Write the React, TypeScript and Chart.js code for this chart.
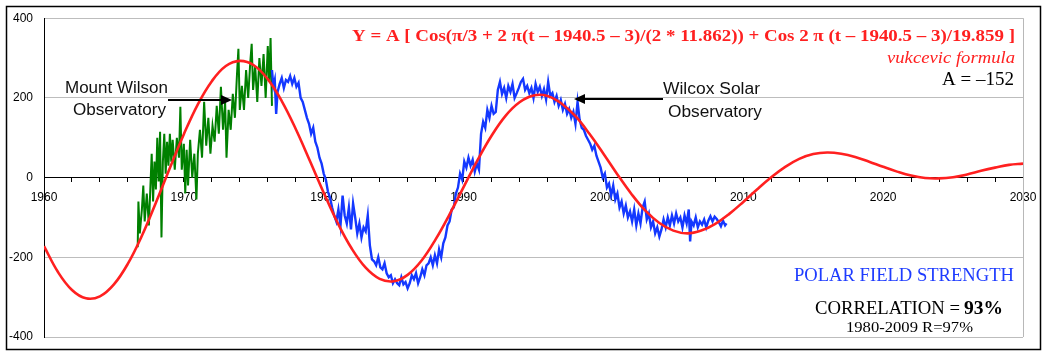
import React, { useEffect, useRef } from "react";
import { Chart, registerables } from "chart.js";

Chart.register(...registerables);

// Vukcevic formula curve
const formulaYears = [
  1960, 1961, 1962, 1963, 1964, 1965, 1966, 1967, 1968, 1969,
  1970, 1971, 1972, 1973, 1974, 1975, 1976, 1977, 1978, 1979,
  1980, 1981, 1982, 1983, 1984, 1985, 1986, 1987, 1988, 1989,
  1990, 1991, 1992, 1993, 1994, 1995, 1996, 1997, 1998, 1999,
  2000, 2001, 2002, 2003, 2004, 2005, 2006, 2007, 2008, 2009,
  2010, 2011, 2012, 2013, 2014, 2015, 2016, 2017, 2018, 2019,
  2020, 2021, 2022, 2023, 2024, 2025, 2026, 2027, 2028, 2029, 2030,
];
const formulaValues = [
  -172, -237, -282, -303, -298, -268, -216, -146, -63, 24,
  109, 184, 242, 280, 293, 282, 247, 192, 122, 43,
  -38, -114, -178, -226, -254, -260, -244, -208, -155, -92,
  -24, 44, 105, 155, 189, 206, 205, 186, 154, 110,
  60, 8, -41, -83, -114, -133, -140, -133, -116, -91,
  -61, -29, 1, 27, 47, 59, 63, 60, 52, 40,
  27, 15, 5, -1, -2, 1, 8, 17, 25, 32, 35,
];

// Mount Wilson Observatory (green)
const wilsonYears = [
  1966.7, 1966.75, 1966.85, 1967.0, 1967.1, 1967.2, 1967.35, 1967.5, 1967.6, 1967.7,
  1967.8, 1967.9, 1968.0, 1968.1, 1968.2, 1968.3, 1968.4, 1968.5, 1968.6, 1968.7,
  1968.8, 1968.9, 1969.0, 1969.1, 1969.2, 1969.35, 1969.5, 1969.65, 1969.75, 1969.85,
  1970.0, 1970.1, 1970.2, 1970.3, 1970.45, 1970.6, 1970.75, 1970.9, 1971.0, 1971.15,
  1971.3, 1971.45, 1971.6, 1971.75, 1971.9, 1972.05, 1972.2, 1972.35, 1972.5, 1972.65,
  1972.8, 1972.95, 1973.05, 1973.2, 1973.35, 1973.5, 1973.65, 1973.8, 1973.9, 1974.0,
  1974.15, 1974.3, 1974.45, 1974.6, 1974.75, 1974.85, 1974.95, 1975.1, 1975.25, 1975.4,
  1975.55, 1975.7, 1975.85, 1976.0, 1976.1, 1976.2, 1976.3,
];
const wilsonValues = [
  -175, -60, -140, -80, -20, -110, -40, -120, -30, 60,
  -60, 40, -30, 100, -10, 115, -150, 40, 110, 10,
  90, 30, 110, 40, 95, 20, 100, 50, 178, 20,
  85, -40, 70, -20, 95, 0, 60, -55, 60, 120,
  50, 190, 80, 150, 60, 130, 90, 180, 110, 228,
  120, 190, 50, 170, 120, 210, 150, 260, 323, 170,
  230, 170, 270, 200, 290, 336, 220, 280, 190, 300,
  230, 310, 200, 330, 240, 350, 180,
];

// Wilcox Solar Observatory (blue)
const wilcoxYears = [
  1976.3, 1976.4, 1976.5, 1976.6, 1976.7, 1976.85, 1977.0, 1977.15, 1977.3, 1977.45,
  1977.6, 1977.75, 1977.9, 1978.05, 1978.2, 1978.35, 1978.5, 1978.65, 1978.8, 1978.95,
  1979.1, 1979.25, 1979.4, 1979.55, 1979.7, 1979.85, 1980.0, 1980.15, 1980.3, 1980.45,
  1980.6, 1980.75, 1980.9, 1981.05, 1981.2, 1981.35, 1981.5, 1981.65, 1981.8, 1981.95,
  1982.1, 1982.25, 1982.4, 1982.55, 1982.7, 1982.85, 1983.0, 1983.15, 1983.3, 1983.45,
  1983.6, 1983.75, 1983.9, 1984.05, 1984.2, 1984.35, 1984.5, 1984.65, 1984.8, 1984.95,
  1985.1, 1985.25, 1985.4, 1985.55, 1985.7, 1985.85, 1986.0, 1986.15, 1986.3, 1986.45,
  1986.6, 1986.75, 1986.9, 1987.05, 1987.2, 1987.35, 1987.5, 1987.65, 1987.8, 1987.95,
  1988.1, 1988.25, 1988.4, 1988.55, 1988.7, 1988.85, 1989.0, 1989.15, 1989.3, 1989.45,
  1989.6, 1989.75, 1989.9, 1990.05, 1990.2, 1990.35, 1990.5, 1990.65, 1990.8, 1990.95,
  1991.1, 1991.25, 1991.4, 1991.55, 1991.7, 1991.85, 1992.0, 1992.15, 1992.3, 1992.45,
  1992.6, 1992.75, 1992.9, 1993.05, 1993.2, 1993.35, 1993.5, 1993.65, 1993.8, 1993.95,
  1994.1, 1994.25, 1994.4, 1994.55, 1994.7, 1994.85, 1995.0, 1995.15, 1995.3, 1995.45,
  1995.6, 1995.75, 1995.9, 1996.05, 1996.2, 1996.35, 1996.5, 1996.65, 1996.8, 1996.95,
  1997.1, 1997.25, 1997.4, 1997.55, 1997.7, 1997.85, 1998.0, 1998.15, 1998.3, 1998.45,
  1998.6, 1998.75, 1998.9, 1999.05, 1999.2, 1999.35, 1999.5, 1999.65, 1999.8, 1999.95,
  2000.1, 2000.25, 2000.4, 2000.55, 2000.7, 2000.85, 2001.0, 2001.15, 2001.3, 2001.45,
  2001.6, 2001.75, 2001.9, 2002.05, 2002.2, 2002.35, 2002.5, 2002.65, 2002.8, 2002.95,
  2003.1, 2003.25, 2003.4, 2003.55, 2003.7, 2003.85, 2004.0, 2004.15, 2004.3, 2004.45,
  2004.6, 2004.75, 2004.9, 2005.05, 2005.2, 2005.35, 2005.5, 2005.65, 2005.8, 2005.95,
  2006.1, 2006.2, 2006.3, 2006.45, 2006.6, 2006.75, 2006.9, 2007.05, 2007.2, 2007.35,
  2007.5, 2007.65, 2007.8, 2007.95, 2008.1, 2008.25, 2008.4, 2008.55, 2008.7, 2008.8,
];
const wilcoxValues = [
  270, 230, 245, 160, 215, 235, 250, 225, 245, 240,
  255, 235, 250, 228, 238, 200, 190, 170, 150, 135,
  110, 125, 90, 75, 50, 35, 10, -5, -35, -50,
  -75, -95, -110, -80, -120, -45, -95, -115, -75, -130,
  -65, -100, -140, -115, -150, -125, -135, -95, -170, -205,
  -210, -220, -200, -225, -230, -215, -240, -250, -245, -265,
  -255, -265, -270, -250, -268, -262, -278, -265, -245, -255,
  -240, -265, -250, -230, -245, -220, -215, -200, -220, -195,
  -215, -180, -200, -165, -150, -120, -110, -80, -75, -40,
  -25, 10, -5, 40, 25, 50, 30, 45, 15, 35,
  20, 110, 140, 125, 170, 150, 180, 160, 165, 220,
  240, 210, 225, 200, 230, 215, 235, 200, 212, 225,
  240, 248, 220, 230, 212, 225, 200, 235, 215, 228,
  205, 222, 196, 240, 205, 212, 190, 205, 180, 195,
  170, 185, 160, 172, 150, 165, 135, 190, 145, 125,
  120, 105, 95, 85, 70, 80, 55, 40, 25, 0,
  10, -25, -15, -45, -20, -55, -40, -75, -60, -90,
  -70, -100, -85, -110, -80, -120, -90, -115, -75, -60,
  -105, -90, -125, -110, -140, -125, -148, -130, -105, -125,
  -100, -120, -95, -115, -90, -110, -100, -125, -95, -115,
  -80, -160, -110, -120, -100, -125, -110, -118, -105, -125,
  -108, -97, -110, -98, -104, -112, -122, -108, -120, -115,
];

const yTickValues = [-400, -200, 0, 200, 400];
const xLabelYears = [1960, 1970, 1980, 1990, 2000, 2010, 2020, 2030];

const pts = (xs: number[], ys: number[]) => xs.map((x, i) => ({ x, y: ys[i] }));

function fitText(
  ctx: CanvasRenderingContext2D,
  text: string,
  font: string,
  color: string,
  x0: number,
  x1: number,
  baseline: number
) {
  ctx.save();
  ctx.font = font;
  const w = ctx.measureText(text).width;
  ctx.translate(x0, baseline);
  ctx.scale((x1 - x0) / w, 1);
  ctx.fillStyle = color;
  ctx.textAlign = "left";
  ctx.textBaseline = "alphabetic";
  ctx.fillText(text, 0, 0);
  ctx.restore();
}

function arrow(ctx: CanvasRenderingContext2D, xFrom: number, xTo: number, y: number) {
  ctx.save();
  ctx.strokeStyle = "#000";
  ctx.fillStyle = "#000";
  ctx.lineWidth = 2;
  const dir = xTo > xFrom ? 1 : -1;
  const headLen = 11;
  ctx.beginPath();
  ctx.moveTo(xFrom, y);
  ctx.lineTo(xTo - dir * headLen, y);
  ctx.stroke();
  ctx.beginPath();
  ctx.moveTo(xTo, y);
  ctx.lineTo(xTo - dir * headLen, y - 5);
  ctx.lineTo(xTo - dir * headLen, y + 5);
  ctx.closePath();
  ctx.fill();
  ctx.restore();
}

const decorPlugin = {
  id: "decor",
  beforeDatasetsDraw(chart: any) {
    const { ctx, chartArea } = chart;
    ctx.save();
    ctx.strokeStyle = "#b8b8b8";
    ctx.lineWidth = 1;
    ctx.beginPath();
    ctx.moveTo(Math.round(chartArea.right) + 0.5, chartArea.top);
    ctx.lineTo(Math.round(chartArea.right) + 0.5, chartArea.bottom);
    ctx.stroke();
    ctx.restore();
  },
  afterDraw(chart: any) {
    const ctx: CanvasRenderingContext2D = chart.ctx;
    ctx.save();
    ctx.strokeStyle = "#000";
    ctx.lineWidth = 1.5;
    ctx.strokeRect(6.5, 6.5, 1034, 343);
    ctx.restore();

    const serif = "'Liberation Serif', 'Times New Roman', serif";
    const sans = "'Liberation Sans', Arial, sans-serif";
    fitText(
      ctx,
      "Y = A [ Cos(\u03c0/3 + 2 \u03c0(t \u2013 1940.5 \u2013 3)/(2 * 11.862)) + Cos 2 \u03c0 (t \u2013 1940.5 \u2013 3)/19.859 ]",
      `bold 17px ${serif}`,
      "#ff2020",
      352,
      1015,
      41
    );
    fitText(ctx, "vukcevic formula", `italic 17px ${serif}`, "#ff2020", 887, 1015, 63);
    fitText(ctx, "A = \u2013152", `18px ${serif}`, "#000", 942, 1014, 85);

    fitText(ctx, "Mount Wilson", `16px ${sans}`, "#111", 65, 168, 92.5);
    fitText(ctx, "Observatory", `16px ${sans}`, "#111", 73, 166, 115);
    fitText(ctx, "Wilcox Solar", `16px ${sans}`, "#111", 663, 760, 94);
    fitText(ctx, "Observatory", `16px ${sans}`, "#111", 668, 762, 116.5);
    arrow(ctx, 168, 232, 100);
    arrow(ctx, 663, 574, 99);

    fitText(ctx, "POLAR FIELD STRENGTH", `19px ${serif}`, "#1e3cff", 794, 1014, 281);
    fitText(ctx, "CORRELATION =", `18px ${serif}`, "#000", 815, 960, 314);
    fitText(ctx, "93%", `bold 18px ${serif}`, "#000", 964, 1003, 314);
    fitText(ctx, "1980-2009 R=97%", `14.5px ${serif}`, "#000", 846, 973, 331.5);
  },
};

export default function App() {
  const ref = useRef<HTMLCanvasElement | null>(null);

  useEffect(() => {
    if (!ref.current) return;
    const chart = new Chart(ref.current, {
      type: "line",
      data: {
        datasets: [
          {
            label: "vukcevic formula",
            data: pts(formulaYears, formulaValues),
            borderColor: "#ff2020",
            borderWidth: 2.6,
            pointRadius: 0,
            tension: 0.4,
            fill: false,
          },
          {
            label: "Wilcox Solar Observatory",
            data: pts(wilcoxYears, wilcoxValues),
            borderColor: "#1438ff",
            borderWidth: 2.4,
            pointRadius: 0,
            tension: 0,
            fill: false,
          },
          {
            label: "Mount Wilson Observatory",
            data: pts(wilsonYears, wilsonValues),
            borderColor: "#008000",
            borderWidth: 2,
            pointRadius: 0,
            tension: 0,
            fill: false,
          },
        ],
      },
      options: {
        responsive: false,
        devicePixelRatio: 1,
        animation: false,
        events: [],
        layout: { padding: { left: 0, top: 18, right: 25, bottom: 19 } },
        plugins: { legend: { display: false }, tooltip: { enabled: false } },
        scales: {
          x: {
            type: "linear",
            min: 1960,
            max: 2030,
            position: { y: 0 } as any,
            afterFit: (s: any) => {
              s.height = 0;
            },
            ticks: {
              stepSize: 2,
              autoSkip: false,
              maxRotation: 0,
              padding: 9,
              color: "#000",
              font: { family: "'Liberation Sans', Arial, sans-serif", size: 12 },
              callback: (v: any) => (xLabelYears.includes(Number(v)) ? String(v) : ""),
            },
            grid: {
              drawOnChartArea: false,
              drawTicks: true,
              tickLength: 4,
              tickColor: "#000",
              color: "#000",
            },
            border: { display: true, color: "#000", width: 1 },
          },
          y: {
            type: "linear",
            min: -400,
            max: 400,
            afterFit: (s: any) => {
              s.width = 44;
            },
            afterBuildTicks: (s: any) => {
              s.ticks = yTickValues.map((v) => ({ value: v }));
            },
            ticks: {
              padding: 11,
              color: "#000",
              font: { family: "'Liberation Sans', Arial, sans-serif", size: 12 },
              callback: (v: any) => String(v),
            },
            grid: {
              drawTicks: false,
              color: (c: any) => (c.tick && c.tick.value === 0 ? "rgba(0,0,0,0)" : "#bdbdbd"),
              lineWidth: 1,
            },
            border: { display: true, color: "#000", width: 1 },
          },
        },
      },
      plugins: [decorPlugin],
    } as any);
    return () => chart.destroy();
  }, []);

  return (
    <div
      style={{
        position: "fixed",
        left: 0,
        top: 0,
        width: 1048,
        height: 356,
        background: "#fff",
      }}
    >
      <canvas ref={ref} width={1048} height={356} style={{ display: "block" }} />
    </div>
  );
}
